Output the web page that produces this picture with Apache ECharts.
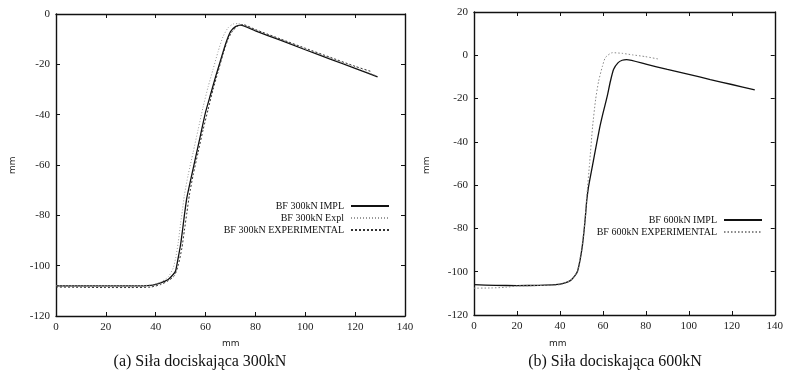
<!DOCTYPE html>
<html>
<head>
<meta charset="utf-8">
<script src="https://cdn.jsdelivr.net/npm/echarts@6/dist/echarts.min.js"></script>
<style>
    html, body { margin: 0; padding: 0; background: #fff; }
    #chart { width: 786px; height: 378px; }
</style>
</head>
<body>
<div id="chart"></div>
<script>
// dane (x mm, y mm)
const xTicks = [0, 20, 40, 60, 80, 100, 120, 140]

const impl300 = [[0,-108],[10,-108],[20,-108],[30,-108],[38,-107.8],[42,-106.8],[45,-105.5],[47,-103.5],[48,-102],[49,-97],[50,-91.5],[51,-84],[51.5,-80],[52.5,-73],[54,-66],[56,-57],[58,-48],[60,-39],[62,-32],[64,-25],[66,-18.5],[68,-12],[70,-7],[72,-5],[74,-4.4],[80,-6.7],[90,-10.4],[100,-14.2],[110,-17.9],[120,-21.6],[129,-25]]
const expl300 = [[0,-108],[10,-108],[20,-108],[30,-108],[38,-107.7],[42,-106.5],[45,-104.5],[47,-101],[48,-97],[49,-91],[50,-83],[50.7,-78],[51.5,-72],[53,-64],[55,-55],[57,-46],[59,-37],[61,-29],[63,-22],[65,-15],[67,-9],[69,-5.5],[71,-4],[73,-3.8],[80,-6.3],[90,-10],[100,-13.8],[110,-17.5],[120,-21.2],[128,-24.3]]
const exper300 = [[0,-108.5],[10,-108.6],[20,-108.7],[30,-108.7],[38,-108.5],[42,-107.5],[45,-106],[47.5,-104],[49,-100],[50.5,-93],[51.5,-86],[52.5,-79],[53.5,-72],[55,-64],[57,-55],[59,-46],[61,-38],[63,-30],[65,-23],[67,-16],[69,-10],[71,-6.5],[73,-4.8],[75,-4.2],[80,-6.2],[90,-9.9],[100,-13.6],[110,-17.2],[120,-20.8],[126.6,-22.9]]

const impl600 = [[0,-106],[10,-106.3],[20,-106.4],[30,-106.3],[38,-106],[42,-105.3],[45,-104],[47,-101.8],[48.2,-99.8],[49.5,-94],[50.5,-87.6],[51.3,-80.5],[51.9,-74],[52.5,-67],[53.2,-61.5],[54,-57],[56,-46.5],[58.4,-34],[60,-27],[62,-19],[63.5,-12],[65,-6.5],[67,-3.5],[69,-2.3],[71,-2],[80,-4.1],[90,-6.5],[100,-8.8],[110,-11.2],[120,-13.5],[130.7,-16]]
const exper600 = [[0,-107.6],[8,-107.5],[15,-107.2],[20,-106.6],[30,-106.4],[40,-106],[45,-104],[48,-100],[50,-90],[51.5,-78],[52.5,-65],[53.8,-50],[55.2,-33],[56.6,-20.5],[58,-12],[59.8,-5],[61.2,-1],[64.4,1.2],[69,0.9],[73.7,0.2],[79.7,-0.6],[86.2,-1.8]]

const serif = '"Liberation Serif", "DejaVu Serif", serif'
const grids = [
    { left: 56, top: 14, width: 349, height: 302 },
    { left: 474, top: 12, width: 302, height: 303 }
]

const axisLine = { show: true, onZero: false, lineStyle: { color: '#111', width: 1.4 } }
const ticks = { show: true, inside: true, length: 4, lineStyle: { color: '#111', width: 1 } }

const makeX = (gi, pos, labels) => ({
    gridIndex: gi, type: 'value', position: pos, min: 0, max: 140, interval: 20,
    axisLine, axisTick: ticks, splitLine: { show: false },
    axisLabel: { show: labels, color: '#222', fontFamily: serif, fontSize: 11, margin: 6 }
})
const makeY = (gi, pos, labels, max) => ({
    gridIndex: gi, type: 'value', position: pos, min: -120, max: max, interval: 20,
    axisLine, axisTick: ticks, splitLine: { show: false },
    axisLabel: { show: labels, color: '#222', fontFamily: serif, fontSize: 11, margin: 6 }
})

const line = (name, data, gi, style) => ({
    name, type: 'line', data, xAxisIndex: gi * 2, yAxisIndex: gi * 2,
    symbol: 'none', smooth: 0.2, lineStyle: style, itemStyle: { color: style.color },
    silent: true
})

const legendBase = {
    orient: 'vertical', align: 'right', itemWidth: 38, itemHeight: 10, itemGap: 2,
    itemStyle: { opacity: 0 },
    textStyle: { fontFamily: serif, fontSize: 10, color: '#111', padding: [0, 2, 0, 0] },
    padding: 0
}

const chart = echarts.init(document.getElementById('chart'))
chart.setOption({
    animation: false,
    backgroundColor: '#fff',
    grid: grids,
    xAxis: [makeX(0, 'bottom', true), makeX(0, 'top', false), makeX(1, 'bottom', true), makeX(1, 'top', false)],
    yAxis: [makeY(0, 'left', true, 0), makeY(0, 'right', false, 0), makeY(1, 'left', true, 20), makeY(1, 'right', false, 20)],
    legend: [
        Object.assign({}, legendBase, { data: ['BF 300kN IMPL', 'BF 300kN Expl', 'BF 300kN EXPERIMENTAL'], right: 396, top: 201 }),
        Object.assign({}, legendBase, { data: ['BF 600kN IMPL', 'BF 600kN EXPERIMENTAL'], right: 23, top: 215 })
    ],
    series: [
        line('BF 300kN IMPL', impl300, 0, { color: '#111', width: 1.3, type: 'solid' }),
        line('BF 300kN Expl', expl300, 0, { color: '#999', width: 1, type: [1, 2] }),
        line('BF 300kN EXPERIMENTAL', exper300, 0, { color: '#333', width: 1, type: [2, 2] }),
        line('BF 600kN IMPL', impl600, 1, { color: '#111', width: 1.3, type: 'solid' }),
        line('BF 600kN EXPERIMENTAL', exper600, 1, { color: '#888', width: 1, type: [1.5, 2] })
    ],
    graphic: [
        { type: 'text', left: 222, top: 339, style: { text: 'mm', font: '9px "DejaVu Sans", sans-serif', fill: '#222' } },
        { type: 'text', left: 549, top: 339, style: { text: 'mm', font: '9px "DejaVu Sans", sans-serif', fill: '#222' } },
        { type: 'text', x: 8, y: 174, rotation: Math.PI / 2, style: { text: 'mm', font: '9px "DejaVu Sans", sans-serif', fill: '#222' } },
        { type: 'text', x: 422, y: 174, rotation: Math.PI / 2, style: { text: 'mm', font: '9px "DejaVu Sans", sans-serif', fill: '#222' } },
        { type: 'text', x: 200, y: 362, style: { text: '(a) Siła dociskająca 300kN', font: '16px ' + serif, fill: '#111', align: 'center', verticalAlign: 'middle' } },
        { type: 'text', x: 615, y: 362, style: { text: '(b) Siła dociskająca 600kN', font: '16px ' + serif, fill: '#111', align: 'center', verticalAlign: 'middle' } }
    ]
})
</script>
</body>
</html>
